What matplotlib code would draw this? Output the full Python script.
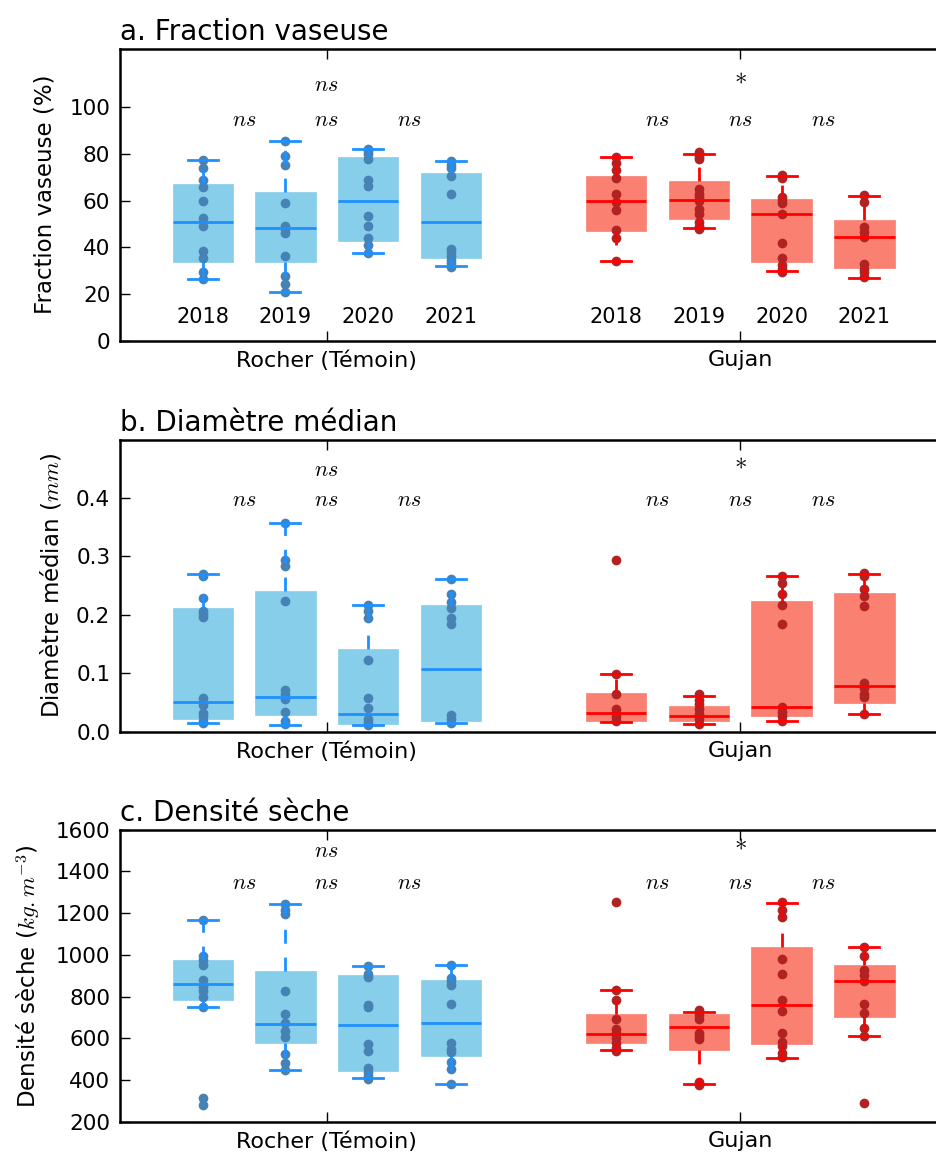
import matplotlib
matplotlib.use('Agg')
import matplotlib.pyplot as plt

plt.rcParams['mathtext.fontset'] = 'cm'
plt.rcParams['font.family'] = 'DejaVu Sans'

years = ['2018', '2019', '2020', '2021']
sites = ['Rocher (Témoin)', 'Gujan']

# significance labels: between consecutive years, then first vs last
sig_rocher = ['ns', 'ns', 'ns']
sig_rocher_all = 'ns'
sig_gujan = ['ns', 'ns', 'ns']
sig_gujan_all = '*'

# a. Fraction vaseuse (%) - Rocher 2018..2021 then Gujan 2018..2021
fv_pts = [
    [77.5, 73.9, 68.7, 65.8, 60.0, 52.7, 49.3, 38.6, 35.3, 29.2, 26.4],
    [85.5, 78.9, 75.4, 59.1, 49.3, 48.0, 45.9, 36.3, 27.5, 24.2, 20.7],
    [82.2, 81.1, 79.8, 77.9, 68.7, 66.4, 53.3, 49.1, 43.9, 40.9, 37.6],
    [76.9, 75.4, 73.9, 70.4, 62.7, 39.3, 37.8, 36.2, 34.5, 33.1, 31.6],
    [78.6, 76.2, 73.2, 69.8, 62.7, 59.4, 55.9, 47.2, 43.9, 34.1],
    [80.6, 78.6, 77.9, 64.8, 62.7, 61.3, 59.8, 56.3, 54.1, 50.7, 49.0, 47.9],
    [70.8, 69.8, 61.5, 60.1, 59.0, 54.4, 41.8, 35.2, 32.4, 30.9, 29.5],
    [62.3, 59.4, 48.7, 46.6, 44.2, 32.8, 30.9, 29.2, 27.1],
]
fv_med = [50.9, 48.2, 60.0, 50.9, 59.6, 60.1, 54.3, 44.6]
fv_q1 = [33.8, 33.8, 42.6, 35.5, 46.9, 52.0, 33.9, 31.2]
fv_q3 = [67.0, 63.7, 78.8, 71.8, 70.7, 68.2, 60.6, 51.6]
fv_lo = [26.4, 20.7, 37.6, 32.1, 34.1, 48.2, 29.8, 26.7]
fv_hi = [77.5, 85.5, 82.2, 76.9, 78.6, 79.9, 70.5, 62.0]

# b. Diametre median (mm)
dm_pts = [
    [0.270, 0.266, 0.228, 0.206, 0.202, 0.197, 0.058, 0.045, 0.032, 0.026, 0.019, 0.015],
    [0.357, 0.293, 0.284, 0.224, 0.071, 0.064, 0.056, 0.034, 0.018, 0.013],
    [0.217, 0.207, 0.195, 0.122, 0.057, 0.040, 0.021, 0.016, 0.012],
    [0.261, 0.235, 0.222, 0.212, 0.195, 0.185, 0.028, 0.021, 0.015],
    [0.293, 0.098, 0.065, 0.039, 0.031, 0.025, 0.018],
    [0.064, 0.055, 0.047, 0.038, 0.030, 0.022, 0.014],
    [0.267, 0.255, 0.235, 0.216, 0.184, 0.042, 0.034, 0.026, 0.018],
    [0.271, 0.267, 0.244, 0.232, 0.215, 0.083, 0.074, 0.064, 0.060, 0.030],
]
dm_med = [0.050, 0.059, 0.030, 0.107, 0.032, 0.027, 0.042, 0.078]
dm_q1 = [0.022, 0.028, 0.014, 0.018, 0.019, 0.019, 0.027, 0.049]
dm_q3 = [0.212, 0.241, 0.141, 0.216, 0.067, 0.044, 0.223, 0.237]
dm_lo = [0.015, 0.012, 0.012, 0.015, 0.016, 0.014, 0.019, 0.030]
dm_hi = [0.270, 0.357, 0.216, 0.261, 0.098, 0.061, 0.267, 0.270]

# c. Densite seche (kg.m-3)
ds_pts = [
    [1165, 992, 976, 949, 880, 845, 824, 800, 752, 312, 280],
    [1243, 1216, 1195, 826, 718, 672, 637, 608, 523, 480, 448],
    [944, 909, 893, 757, 752, 571, 541, 458, 437, 419, 405],
    [951, 890, 874, 853, 765, 579, 549, 536, 485, 451, 380],
    [1254, 831, 783, 691, 645, 624, 600, 576, 554, 541],
    [733, 712, 691, 624, 611, 597, 389, 376],
    [1251, 1216, 1181, 979, 906, 784, 731, 627, 584, 565, 528, 509],
    [1035, 994, 928, 904, 872, 763, 723, 648, 613, 290],
]
ds_med = [862, 670, 663, 675, 622, 656, 757, 875]
ds_q1 = [781, 579, 445, 515, 576, 544, 574, 701]
ds_q3 = [976, 922, 903, 877, 717, 718, 1035, 949]
ds_lo = [752, 448, 408, 380, 543, 380, 504, 611]
ds_hi = [1165, 1243, 946, 951, 831, 728, 1249, 1035]

positions = [1, 2, 3, 4, 6, 7, 8, 9]
face_cols = ['skyblue', 'salmon']
line_cols = ['dodgerblue', 'red']
dot_cols = ['steelblue', 'firebrick']

panels = [
    dict(title='a. Fraction vaseuse', ylabel='Fraction vaseuse (%)',
         pts=fv_pts, med=fv_med, q1=fv_q1, q3=fv_q3, lo=fv_lo, hi=fv_hi,
         ylim=(0, 125), yticks=[0, 20, 40, 60, 80, 100], ytl=None,
         sig_y=94.3, top_y=109.6, years_y=10),
    dict(title='b. Diamètre médian', ylabel='Diamètre médian ($mm$)',
         pts=dm_pts, med=dm_med, q1=dm_q1, q3=dm_q3, lo=dm_lo, hi=dm_hi,
         ylim=(0, 0.5), yticks=[0.0, 0.1, 0.2, 0.3, 0.4],
         ytl=['0.0', '0.1', '0.2', '0.3', '0.4'],
         sig_y=0.397, top_y=0.448, years_y=None),
    dict(title='c. Densité sèche', ylabel='Densité sèche ($kg.m^{-3}$)',
         pts=ds_pts, med=ds_med, q1=ds_q1, q3=ds_q3, lo=ds_lo, hi=ds_hi,
         ylim=(200, 1600), yticks=list(range(200, 1601, 200)), ytl=None,
         sig_y=1344, top_y=1496, years_y=None),
]

fig = plt.figure(figsize=(9.36, 11.57), dpi=100)
bottoms = [0.7055, 0.3676, 0.0305]

for p, b in zip(panels, bottoms):
    ax = fig.add_axes([0.1282, b, 0.8836, 0.2525])
    for i, pos in enumerate(positions):
        k = 0 if i < 4 else 1
        st = dict(med=p['med'][i], q1=p['q1'][i], q3=p['q3'][i],
                  whislo=p['lo'][i], whishi=p['hi'][i])
        ax.bxp([st], positions=[pos], widths=0.73, patch_artist=True,
               showfliers=False, manage_ticks=False,
               boxprops=dict(facecolor=face_cols[k], edgecolor=face_cols[k],
                             linewidth=0.5, zorder=1),
               medianprops=dict(color=line_cols[k], linewidth=2, zorder=3),
               whiskerprops=dict(color=line_cols[k], linewidth=2,
                                 linestyle=(0, (5, 5)), zorder=3),
               capprops=dict(color=line_cols[k], linewidth=2, zorder=3))
        ax.plot([pos] * len(p['pts'][i]), p['pts'][i], 'o', color=dot_cols[k],
                ms=7, mec='none', zorder=2)

    # significance annotations
    for j, s in enumerate(sig_rocher):
        ax.text(positions[j] + 0.5, p['sig_y'], '$%s$' % s, ha='center',
                va='center', fontsize=16)
    for j, s in enumerate(sig_gujan):
        ax.text(positions[4 + j] + 0.5, p['sig_y'], '$%s$' % s, ha='center',
                va='center', fontsize=16)
    ax.text(2.5, p['top_y'], '$%s$' % sig_rocher_all, ha='center', va='center',
            fontsize=16)
    # the star sits a little higher than the "ns" above the groups
    ax.annotate('$%s$' % sig_gujan_all, (7.5, p['top_y']), xytext=(0, 6),
                textcoords='offset points', ha='center', va='center',
                fontsize=18)

    if p['years_y'] is not None:
        for pos, yr in zip(positions, years * 2):
            ax.text(pos, p['years_y'], yr, ha='center', va='center',
                    fontsize=15)

    ax.set_xlim(0, 10)
    ax.set_ylim(*p['ylim'])
    ax.set_xticks([2.5, 7.5])
    ax.set_xticklabels(sites, fontsize=16)
    ax.set_yticks(p['yticks'])
    if p['ytl'] is not None:
        ax.set_yticklabels(p['ytl'])
    ax.tick_params(axis='y', labelsize=15.5)
    ax.tick_params(direction='in', length=7, width=1, pad=7,
                   top=True, right=True)
    for sp in ax.spines.values():
        sp.set_linewidth(1.8)
    ax.set_ylabel(p['ylabel'], fontsize=16.5, labelpad=9)
    ax.set_title(p['title'], loc='left', fontsize=20, pad=6)

fig.savefig('out.png', dpi=100, facecolor='white')
